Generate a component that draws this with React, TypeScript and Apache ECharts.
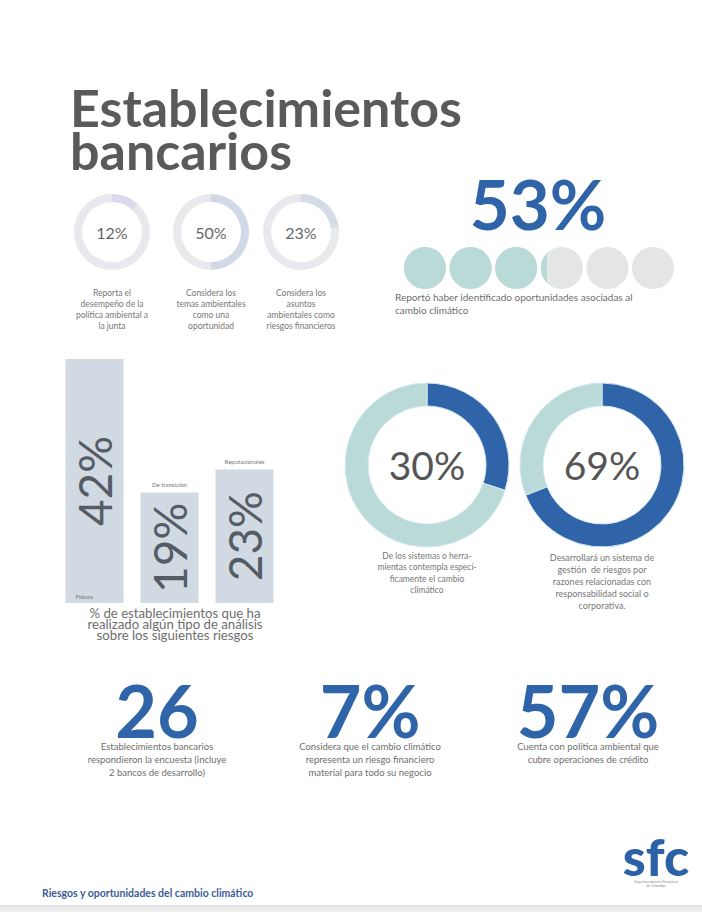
import React, { useEffect, useRef } from "react";
import * as echarts from "echarts";

// ---------- data ----------
const ringValues = [12, 50, 23];
const ringCaptions = [
  "Reporta el\ndesempeño de la\npolítica ambiental a\nla junta",
  "Considera los\ntemas ambientales\ncomo una\noportunidad",
  "Considera los\nasuntos\nambientales como\nriesgos financieros",
];
const opportunityValue = 53;
const opportunityCaption = "Reportó haber identificado oportunidades asociadas al\ncambio climático";
const riskCategories = ["Físicos", "De transición", "Reputacionales"];
const riskValues = [42, 19, 23];
const riskCaption = "% de establecimientos que ha\nrealizado algún tipo de análisis\nsobre los siguientes riesgos";
const donutValues = [30, 69];
const donutCaptions = [
  "De los sistemas o herra-\nmientas contempla especí-\nficamente el cambio\nclimático",
  "Desarrollará un sistema de\ngestión  de riesgos por\nrazones relacionadas con\nresponsabilidad social o\ncorporativa.",
];
const statLabels = ["26", "7%", "57%"];
const statCaptions = [
  "Establecimientos bancarios\nrespondieron la encuesta (incluye\n2 bancos de desarrollo)",
  "Considera que el cambio climático\nrepresenta un riesgo financiero\nmaterial para todo su negocio",
  "Cuenta con política ambiental que\ncubre operaciones de crédito",
];

// ---------- style ----------
const FONT = "Lato";
const BLUE = "#2f64a8";
const TEAL = "#b9dad7";
const GRAY_TEXT = "#6e6e6e";
const ringColors = ["#dcd8ee", "#d2d9e6", "#d5dce6"];
const ringCenters = [[112, 232], [211, 232], [301, 232]];
const donutCenters = [[427, 465], [602, 465]];
const statX = [157, 370, 588];

export default function App() {
  const ref = useRef<HTMLDivElement>(null);
  useEffect(() => {
    if (!ref.current) return;
    const chart = echarts.init(ref.current, undefined, { renderer: "svg" });

    const ringSeries = ringValues.map((v, i) => ({
      type: "pie",
      silent: true,
      center: ringCenters[i],
      radius: [30, 38],
      startAngle: 90,
      clockwise: true,
      label: { show: false },
      labelLine: { show: false },
      data: [
        {
          value: v,
          itemStyle: { color: ringColors[i] },
          label: {
            show: true,
            position: "center",
            formatter: "{c}%",
            fontFamily: FONT,
            fontSize: 16,
            color: "#666",
          },
        },
        { value: 100 - v, itemStyle: { color: "#e8e9ec" }, label: { show: false } },
      ],
    }));

    const donutSeries = donutValues.map((v, i) => ({
      type: "pie",
      silent: true,
      center: donutCenters[i],
      radius: [59, 82],
      startAngle: 90,
      clockwise: true,
      labelLine: { show: false },
      itemStyle: { borderColor: "#d3e7f0", borderWidth: 1 },
      label: { show: false },
      data: [
        {
          value: v,
          itemStyle: { color: BLUE },
          label: {
            show: true,
            position: "center",
            formatter: "{c}%",
            fontFamily: FONT,
            fontSize: 39,
            color: "#555",
          },
        },
        { value: 100 - v, itemStyle: { color: TEAL }, label: { show: false } },
      ],
    }));

    const texts: any[] = [];
    // title
    texts.push({
      type: "text", x: 70, y: 107,
      style: { text: "Establecimientos", fontFamily: FONT, fontWeight: "bold", fontSize: 52, lineHeight: 40, fill: "#5a5a5a", verticalAlign: "middle" },
    });
    texts.push({
      type: "text", x: 70, y: 150,
      style: { text: "bancarios", fontFamily: FONT, fontWeight: "bold", fontSize: 52, lineHeight: 40, fill: "#5a5a5a", verticalAlign: "middle" },
    });
    ringCaptions.forEach((t, i) => {
      texts.push({
        type: "text", x: ringCenters[i][0], y: 287,
        style: { text: t, fontFamily: FONT, fontSize: 8.5, lineHeight: 11, fill: "#777", align: "center", verticalAlign: "top" },
      });
    });
    texts.push({
      type: "text", x: 538, y: 203,
      style: { text: opportunityValue + "%", fontFamily: FONT, fontWeight: "bold", fontSize: 69, lineHeight: 56, fill: BLUE, align: "center", verticalAlign: "middle" },
    });
    texts.push({
      type: "text", x: 395, y: 291,
      style: { text: opportunityCaption, fontFamily: FONT, fontSize: 10, lineHeight: 12.5, fill: GRAY_TEXT, align: "left", verticalAlign: "top" },
    });
    texts.push({
      type: "text", x: 175, y: 607,
      style: { text: riskCaption, fontFamily: FONT, fontSize: 13.2, lineHeight: 11, fill: GRAY_TEXT, align: "center", verticalAlign: "top" },
    });
    texts.push({
      type: "text", x: donutCenters[0][0], y: 550,
      style: { text: donutCaptions[0], fontFamily: FONT, fontSize: 8.5, lineHeight: 11.5, fill: "#777", align: "center", verticalAlign: "top" },
    });
    texts.push({
      type: "text", x: donutCenters[1][0], y: 551,
      style: { text: donutCaptions[1], fontFamily: FONT, fontSize: 9, lineHeight: 12.2, fill: "#777", align: "center", verticalAlign: "top" },
    });
    statLabels.forEach((t, i) => {
      texts.push({
        type: "text", x: statX[i], y: 710,
        style: { text: t, fontFamily: FONT, fontWeight: "bold", fontSize: 72, lineHeight: 56, fill: BLUE, align: "center", verticalAlign: "middle" },
      });
      texts.push({
        type: "text", x: statX[i], y: 740,
        style: { text: statCaptions[i], fontFamily: FONT, fontSize: 9.5, lineHeight: 13, fill: GRAY_TEXT, align: "center", verticalAlign: "top" },
      });
    });
    // footer
    texts.push({
      type: "text", x: 42, y: 893,
      style: { text: "Riesgos y oportunidades del cambio climático", fontFamily: FONT, fontWeight: "bold", fontSize: 10.5, fill: "#3d5b98", verticalAlign: "middle" },
    });
    texts.push({
      type: "text", x: 656, y: 856,
      style: { text: "sfc", fontFamily: FONT, fontWeight: 900, fontSize: 52, lineHeight: 40, fill: "#2d61a7", align: "center", verticalAlign: "middle" },
    });
    texts.push({
      type: "text", x: 656, y: 880,
      style: { text: "Superintendencia Financiera\nde Colombia", fontFamily: FONT, fontSize: 3.5, lineHeight: 4, fill: "#888", align: "center", verticalAlign: "top" },
    });
    texts.push({
      type: "rect", shape: { x: 0, y: 905, width: 702, height: 7 },
      style: {
        fill: new echarts.graphic.LinearGradient(0, 0, 0, 1, [
          { offset: 0, color: "#e4e4e4" },
          { offset: 1, color: "#f2f2f2" },
        ]),
      },
    });

    chart.setOption({
      animation: false,
      backgroundColor: "#ffffff",
      grid: [
        { left: 57, top: 359, width: 225, height: 244 },
        { left: 404, top: 247, width: 270, height: 42 },
      ],
      xAxis: [
        { gridIndex: 0, type: "category", data: riskCategories, show: false },
        { gridIndex: 1, type: "value", min: 0, max: 100, show: false },
      ],
      yAxis: [
        { gridIndex: 0, type: "value", min: 0, max: 42, show: false },
        { gridIndex: 1, type: "category", data: [""], show: false },
      ],
      series: [
        ...ringSeries,
        ...donutSeries,
        {
          type: "bar",
          xAxisIndex: 0,
          yAxisIndex: 0,
          silent: true,
          barWidth: 58,
          itemStyle: { color: "#d1d9e3" },
          label: {
            show: true,
            position: "inside",
            rotate: 90,
            formatter: "{c}%",
            fontFamily: FONT,
            fontWeight: "normal",
            fontSize: 46,
            color: "#555c65",
          },
          data: riskValues,
        },
        {
          type: "bar",
          xAxisIndex: 0,
          yAxisIndex: 0,
          silent: true,
          barWidth: 58,
          barGap: "-100%",
          itemStyle: { color: "rgba(0,0,0,0)" },
          label: {
            show: true,
            formatter: "{b}",
            fontFamily: FONT,
            fontSize: 6,
            color: "#777",
            position: "top",
            distance: 5,
          },
          data: riskValues.map((v, i) =>
            i === 0
              ? { value: v, label: { position: "insideBottomLeft", distance: 4, offset: [6, 0] } }
              : { value: v }
          ),
          z: 3,
        },
        {
          type: "pictorialBar",
          xAxisIndex: 1,
          yAxisIndex: 1,
          silent: true,
          symbol: "circle",
          symbolRepeat: "fixed",
          symbolSize: [42, 42],
          symbolMargin: 2,
          symbolBoundingData: 100,
          itemStyle: { color: "#e4e5e7" },
          data: [100],
          z: 1,
        },
        {
          type: "pictorialBar",
          xAxisIndex: 1,
          yAxisIndex: 1,
          silent: true,
          symbol: "circle",
          symbolRepeat: "fixed",
          symbolClip: true,
          symbolSize: [42, 42],
          symbolMargin: 2,
          symbolBoundingData: 100,
          itemStyle: { color: TEAL },
          data: [opportunityValue],
          z: 2,
        },
      ],
      graphic: texts,
    });
    return () => chart.dispose();
  }, []);
  return (
    <div
      ref={ref}
      style={{ position: "absolute", left: 0, top: 0, width: 702, height: 912 }}
    />
  );
}
